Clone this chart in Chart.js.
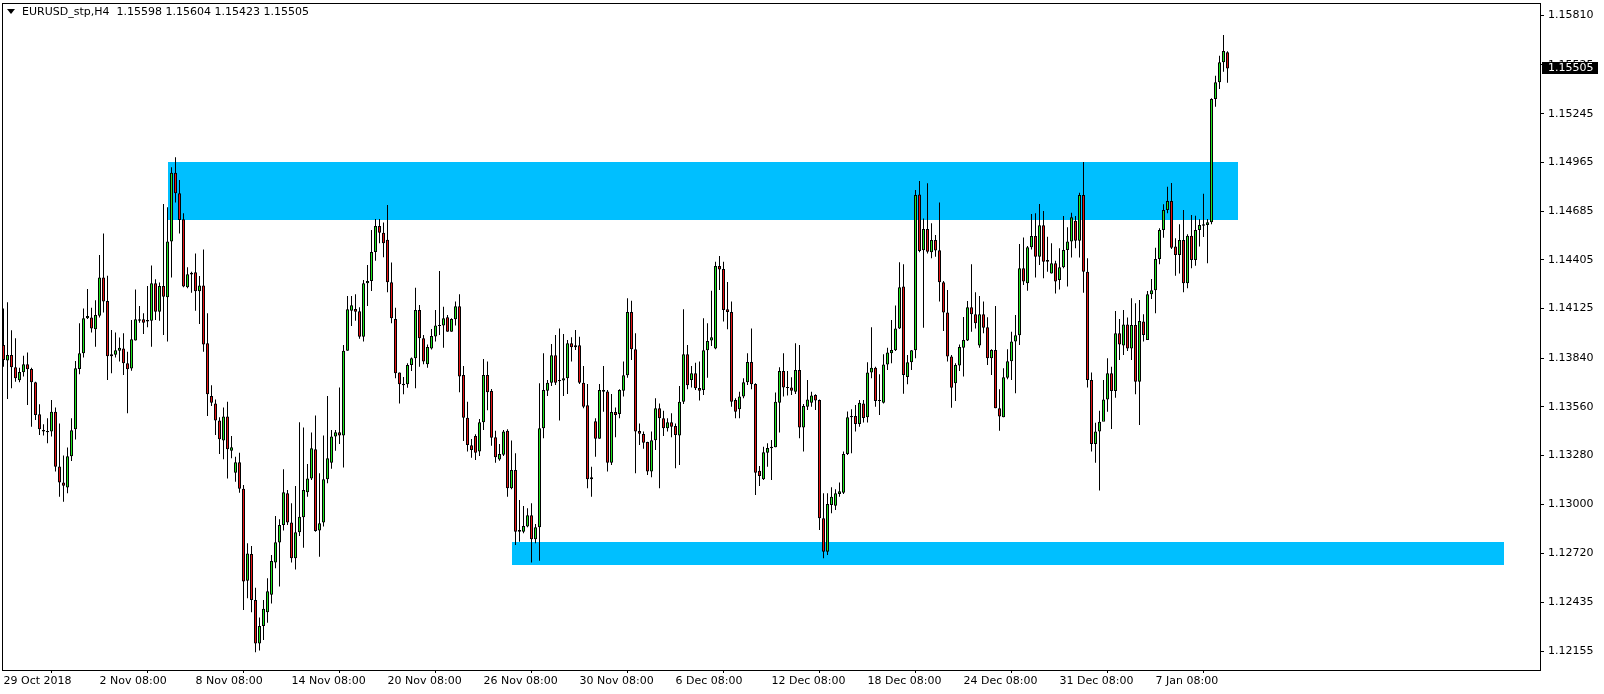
<!DOCTYPE html>
<html>
<head>
<meta charset="utf-8">
<title>EURUSD_stp,H4</title>
<script src="https://cdn.jsdelivr.net/npm/chart.js@4.4.1/dist/chart.umd.min.js"></script>
<style>
    html, body { margin: 0; padding: 0; background: #fff; }
    #wrap { width: 1604px; height: 694px; }
</style>
</head>
<body>
<div id="wrap"><canvas id="priceChart" width="1604" height="694"></canvas></div>
<script>
// H4 candles, oldest first (bar 0 = 29 Oct 2018 08:00)
const opens = [
    1.13916,1.13827,1.13858,1.13787,1.13713,1.13759,1.13805,1.13778,1.13701,1.13517,
    1.13427,1.13421,1.13418,1.13532,1.13218,1.13126,1.13096,1.13276,1.13431,1.13778,
    1.13868,1.14069,1.14073,1.14006,1.14084,1.14303,1.14168,1.13851,1.13860,1.13883,
    1.13896,1.13810,1.13780,1.13941,1.14055,1.14063,1.14059,1.14055,1.14270,1.14107,
    1.14255,1.14190,1.14511,1.14906,1.14787,1.14638,1.14247,1.14320,1.14333,1.14224,
    1.14258,1.13925,1.13623,1.13580,1.13481,1.13366,1.13504,1.13308,1.13182,1.13241,
    1.13090,1.12561,1.12715,1.12450,1.12200,1.12300,1.12380,1.12480,1.12665,1.12780,
    1.12881,1.13063,1.12896,1.12690,1.12839,1.12925,1.13069,1.13149,1.13316,1.12849,
    1.12895,1.13144,1.13239,1.13389,1.13414,1.13395,1.13883,1.14113,1.14122,1.14109,
    1.13963,1.14270,1.14283,1.14450,1.14600,1.14560,1.14520,1.14276,1.14065,1.13758,
    1.13693,1.13690,1.13801,1.13839,1.14117,1.13954,1.13805,1.13896,1.13965,1.14025,
    1.14027,1.14075,1.13992,1.14063,1.14138,1.13743,1.13498,1.13339,1.13393,1.13303,
    1.13471,1.13743,1.13651,1.13385,1.13258,1.13285,1.13423,1.13092,1.13197,1.12852,
    1.12843,1.12873,1.12937,1.12799,1.12868,1.13437,1.13653,1.13699,1.13856,1.13714,
    1.13711,1.13724,1.13925,1.13902,1.13914,1.13699,1.13569,1.13144,1.13477,1.13377,
    1.13657,1.13649,1.13239,1.13530,1.13519,1.13653,1.13741,1.14105,1.13891,1.13421,
    1.13404,1.13358,1.13188,1.13368,1.13552,1.13494,1.13437,1.13471,1.13450,1.13396,
    1.13590,1.13862,1.13714,1.13753,1.13668,1.13657,1.13885,1.13941,1.13895,1.14370,
    1.14352,1.14121,1.14105,1.13600,1.13546,1.13619,1.13701,1.13818,1.13691,1.13193,
    1.13144,1.13297,1.13322,1.13328,1.13584,1.13766,1.13674,1.13672,1.13647,1.13772,
    1.13441,1.13561,1.13584,1.13628,1.13600,1.12920,1.12728,1.12996,1.12992,1.13059,
    1.13067,1.13289,1.13508,1.13508,1.13462,1.13580,1.13500,1.13758,1.13785,1.13600,
    1.13584,1.13804,1.13868,1.13885,1.14011,1.14251,1.13732,1.13816,1.13885,1.14781,
    1.14460,1.14582,1.14448,1.14519,1.14460,1.14276,1.14103,1.13850,1.13695,1.13797,
    1.13900,1.13942,1.14132,1.14092,1.13912,1.14092,1.14017,1.13839,1.13887,1.13552,
    1.13500,1.13728,1.13822,1.13935,1.13971,1.14356,1.14270,1.14477,1.14542,1.14423,
    1.14603,1.14394,1.14327,1.14385,1.14289,1.14362,1.14461,1.14511,1.14630,1.14515,
    1.14778,1.14337,1.13714,1.13347,1.13418,1.13475,1.13603,1.13753,1.13651,1.13983,
    1.13912,1.14034,1.13896,1.14031,1.13705,1.14050,1.13944,1.14207,1.14230,1.14410,
    1.14576,1.14691,1.14743,1.14481,1.14433,1.14519,1.14270,1.14544,1.14404,1.14576,
    1.14601,1.14605,1.14621,1.15329,1.15425,1.15540,1.15598
];
const highs = [
    1.14126,1.14161,1.14000,1.13954,1.13785,1.13854,1.13873,1.13785,1.13705,1.13575,
    1.13460,1.13494,1.13600,1.13556,1.13465,1.13280,1.13326,1.13494,1.13824,1.14040,
    1.14126,1.14237,1.14130,1.14172,1.14433,1.14557,1.14314,1.14002,1.13988,1.13958,
    1.13983,1.13877,1.14059,1.14235,1.14140,1.14098,1.14255,1.14373,1.14293,1.14274,
    1.14726,1.14707,1.14937,1.14994,1.14864,1.14672,1.14362,1.14337,1.14442,1.14312,
    1.14465,1.14098,1.13684,1.13603,1.13500,1.13557,1.13590,1.13393,1.13274,1.13297,
    1.13111,1.12776,1.12760,1.12520,1.12350,1.12450,1.12575,1.12709,1.12933,1.12914,
    1.13201,1.13082,1.13006,1.13105,1.13471,1.13442,1.13232,1.13412,1.13511,1.13178,
    1.13396,1.13623,1.13427,1.13427,1.13672,1.13916,1.14197,1.14197,1.14207,1.14132,
    1.14289,1.14375,1.14576,1.14640,1.14640,1.14620,1.14720,1.14390,1.14130,1.13758,
    1.13732,1.13810,1.13843,1.14245,1.14145,1.13973,1.13919,1.14008,1.14117,1.14341,
    1.14136,1.14088,1.14069,1.14165,1.14207,1.13795,1.13590,1.13375,1.13402,1.13490,
    1.13835,1.13820,1.13663,1.13423,1.13347,1.13427,1.13431,1.13366,1.13293,1.13025,
    1.12990,1.12977,1.13006,1.12887,1.13695,1.13868,1.13714,1.13921,1.13973,1.14011,
    1.13979,1.13944,1.13960,1.14002,1.13963,1.13795,1.13691,1.13216,1.13494,1.13691,
    1.13795,1.13657,1.13634,1.13557,1.13661,1.13820,1.14184,1.14170,1.13983,1.13465,
    1.13418,1.13360,1.13418,1.13609,1.13580,1.13538,1.13494,1.13523,1.13465,1.13680,
    1.14121,1.13916,1.13795,1.13814,1.13820,1.14069,1.14040,1.14228,1.14394,1.14427,
    1.14394,1.14278,1.14165,1.13609,1.13647,1.13724,1.13868,1.14010,1.13695,1.13220,
    1.13331,1.13351,1.13370,1.13642,1.13787,1.13868,1.13766,1.13730,1.13925,1.13916,
    1.13577,1.13714,1.13647,1.13632,1.13603,1.13063,1.13063,1.13098,1.13086,1.13125,
    1.13303,1.13533,1.13546,1.13571,1.13600,1.13600,1.13816,1.14017,1.13791,1.13747,
    1.13862,1.13900,1.14059,1.14142,1.14391,1.14379,1.13858,1.13887,1.14806,1.14858,
    1.14643,1.14845,1.14615,1.14548,1.14735,1.14283,1.14232,1.13858,1.13810,1.13919,
    1.14076,1.14168,1.14379,1.14218,1.14197,1.14165,1.14075,1.13891,1.14140,1.13661,
    1.13782,1.13891,1.13992,1.14088,1.14496,1.14534,1.14484,1.14668,1.14672,1.14726,
    1.14686,1.14538,1.14500,1.14400,1.14471,1.14657,1.14592,1.14676,1.14657,1.14791,
    1.14967,1.14414,1.13757,1.13469,1.13538,1.13714,1.13839,1.13791,1.14111,1.14065,
    1.14117,1.14073,1.14184,1.14155,1.14174,1.14092,1.14226,1.14295,1.14475,1.14586,
    1.14724,1.14825,1.14847,1.14529,1.14609,1.14691,1.14552,1.14663,1.14659,1.14638,
    1.14785,1.14640,1.15333,1.15463,1.15578,1.15697,1.15604
];
const lows = [
    1.13791,1.13605,1.13667,1.13705,1.13701,1.13734,1.13571,1.13446,1.13485,1.13398,
    1.13395,1.13351,1.13389,1.13188,1.13044,1.13015,1.13063,1.13249,1.13372,1.13747,
    1.13843,1.14065,1.13988,1.13906,1.14073,1.14103,1.13714,1.13753,1.13843,1.13820,
    1.13743,1.13523,1.13768,1.13941,1.14044,1.13979,1.14017,1.13906,1.14059,1.14055,
    1.13973,1.13935,1.14304,1.14734,1.14557,1.14247,1.14241,1.14216,1.14113,1.14036,
    1.13877,1.13508,1.13565,1.13398,1.13289,1.13259,1.13149,1.13264,1.13130,1.13067,
    1.12393,1.12460,1.12380,1.12150,1.12160,1.12220,1.12320,1.12430,1.12632,1.12527,
    1.12849,1.12881,1.12665,1.12626,1.12818,1.12751,1.13044,1.13140,1.12843,1.12699,
    1.12872,1.13121,1.13205,1.13308,1.13347,1.13211,1.13883,1.14025,1.14055,1.13952,
    1.13935,1.14140,1.14226,1.14400,1.14500,1.14420,1.14218,1.14040,1.13724,1.13580,
    1.13632,1.13670,1.13766,1.13667,1.13791,1.13805,1.13785,1.13889,1.13935,1.13973,
    1.13900,1.13992,1.13992,1.14027,1.13644,1.13364,1.13303,1.13268,1.13255,1.13278,
    1.13427,1.13540,1.13337,1.13239,1.13251,1.13278,1.13044,1.13086,1.12766,1.12785,
    1.12833,1.12868,1.12665,1.12776,1.12676,1.13379,1.13622,1.13680,1.13686,1.13481,
    1.13622,1.13634,1.13820,1.13887,1.13691,1.13552,1.13092,1.13044,1.13274,1.13377,
    1.13532,1.13188,1.13226,1.13385,1.13494,1.13619,1.13728,1.13829,1.13178,1.13341,
    1.13320,1.13169,1.13155,1.13312,1.13092,1.13393,1.13418,1.13385,1.13207,1.13226,
    1.13577,1.13661,1.13672,1.13657,1.13596,1.13628,1.13728,1.13910,1.13891,1.14232,
    1.14050,1.14006,1.13561,1.13494,1.13494,1.13609,1.13686,1.13661,1.13054,1.13105,
    1.13140,1.13216,1.13140,1.13328,1.13412,1.13619,1.13626,1.13628,1.13634,1.13379,
    1.13303,1.13542,1.13561,1.13542,1.12852,1.12690,1.12709,1.12948,1.12967,1.13044,
    1.13059,1.13283,1.13293,1.13418,1.13446,1.13470,1.13470,1.13724,1.13561,1.13513,
    1.13580,1.13772,1.13810,1.13881,1.14008,1.13636,1.13690,1.13772,1.13839,1.14448,
    1.14015,1.14442,1.14414,1.14423,1.14165,1.13996,1.13820,1.13555,1.13594,1.13766,
    1.13734,1.13939,1.13992,1.14011,1.13900,1.13983,1.13801,1.13743,1.13552,1.13423,
    1.13500,1.13718,1.13714,1.13638,1.13916,1.14260,1.14228,1.14465,1.14304,1.14375,
    1.14299,1.14337,1.14327,1.14212,1.14235,1.14356,1.14251,1.14419,1.14471,1.14419,
    1.14216,1.13672,1.13303,1.13239,1.13079,1.13513,1.13532,1.13433,1.13613,1.13829,
    1.13858,1.13881,1.13829,1.13632,1.13456,1.13935,1.13944,1.14180,1.14098,1.14379,
    1.14532,1.14672,1.14467,1.14314,1.14327,1.14218,1.14241,1.14356,1.14371,1.14481,
    1.14536,1.14385,1.14609,1.15285,1.15387,1.15486,1.15423
];
const closes = [
    1.13829,1.13858,1.13787,1.13724,1.13760,1.13805,1.13776,1.13701,1.13513,1.13431,
    1.13418,1.13414,1.13532,1.13216,1.13126,1.13107,1.13276,1.13425,1.13782,1.13868,
    1.14069,1.14082,1.14011,1.14088,1.14303,1.14165,1.13851,1.13862,1.13885,1.13900,
    1.13810,1.13776,1.13948,1.14063,1.14063,1.14044,1.14050,1.14270,1.14107,1.14255,
    1.14193,1.14511,1.14906,1.14787,1.14634,1.14251,1.14322,1.14331,1.14224,1.14258,
    1.13919,1.13632,1.13584,1.13481,1.13374,1.13504,1.13316,1.13328,1.13241,1.13090,
    1.12556,1.12718,1.12450,1.12200,1.12300,1.12400,1.12500,1.12674,1.12782,1.12881,
    1.13069,1.12895,1.12690,1.12839,1.12929,1.13082,1.13149,1.13322,1.12847,1.12891,
    1.13144,1.13264,1.13389,1.13414,1.13395,1.13883,1.14121,1.14144,1.14107,1.13963,
    1.14270,1.14283,1.14450,1.14600,1.14560,1.14500,1.14276,1.14069,1.13753,1.13690,
    1.13684,1.13801,1.13839,1.14117,1.13954,1.13820,1.13904,1.13967,1.14027,1.14031,
    1.14069,1.13992,1.14065,1.14138,1.13734,1.13498,1.13341,1.13312,1.13297,1.13471,
    1.13743,1.13644,1.13383,1.13270,1.13289,1.13419,1.13092,1.13197,1.12843,1.12843,
    1.12875,1.12937,1.12799,1.12868,1.13437,1.13657,1.13699,1.13856,1.13699,1.13707,
    1.13724,1.13925,1.13902,1.13914,1.13699,1.13561,1.13144,1.13155,1.13377,1.13657,
    1.13647,1.13239,1.13530,1.13513,1.13657,1.13741,1.14105,1.13891,1.13418,1.13406,
    1.13354,1.13188,1.13368,1.13552,1.13494,1.13437,1.13471,1.13446,1.13398,1.13590,
    1.13862,1.13684,1.13753,1.13667,1.13653,1.13885,1.13939,1.13960,1.14370,1.14350,
    1.14117,1.14105,1.13590,1.13532,1.13619,1.13701,1.13818,1.13690,1.13182,1.13163,
    1.13299,1.13324,1.13331,1.13590,1.13766,1.13672,1.13669,1.13653,1.13772,1.13441,
    1.13565,1.13603,1.13626,1.13596,1.12920,1.12728,1.13002,1.13044,1.13063,1.13075,
    1.13289,1.13500,1.13500,1.13462,1.13584,1.13496,1.13758,1.13785,1.13594,1.13594,
    1.13804,1.13873,1.13887,1.14011,1.14247,1.13743,1.13816,1.13885,1.14778,1.14456,
    1.14582,1.14452,1.14519,1.14458,1.14276,1.14103,1.13849,1.13670,1.13801,1.13904,
    1.13944,1.14132,1.14092,1.14040,1.14092,1.14015,1.13839,1.13887,1.13552,1.13504,
    1.13730,1.13822,1.13935,1.13971,1.14356,1.14280,1.14477,1.14542,1.14423,1.14603,
    1.14394,1.14404,1.14385,1.14280,1.14362,1.14461,1.14511,1.14649,1.14515,1.14778,
    1.14337,1.13714,1.13347,1.13418,1.13475,1.13603,1.13753,1.13651,1.13983,1.13919,
    1.14034,1.13896,1.14031,1.13705,1.14053,1.13973,1.14207,1.14230,1.14410,1.14576,
    1.14691,1.14743,1.14475,1.14433,1.14519,1.14270,1.14544,1.14404,1.14576,1.14605,
    1.14609,1.14621,1.15329,1.15425,1.15540,1.15605,1.15505
];

// Axis ticks
const yTicks = [1.15810, 1.15525, 1.15245, 1.14965, 1.14685, 1.14405, 1.14125,
                1.13840, 1.13560, 1.13280, 1.13000, 1.12720, 1.12435, 1.12155];
const xTickIdx = [0, 24, 48, 72, 96, 120, 144, 168, 192, 216, 240, 264, 288];
const xTickText = ['29 Oct 2018', '2 Nov 08:00', '8 Nov 08:00', '14 Nov 08:00', '20 Nov 08:00',
                   '26 Nov 08:00', '30 Nov 08:00', '6 Dec 08:00', '12 Dec 08:00', '18 Dec 08:00',
                   '24 Dec 08:00', '31 Dec 08:00', '7 Jan 08:00'];

// Rectangles (bar index from/to, price top/bottom)
const zoneFrom = [41, 127];
const zoneTo = [308.5, 375];
const zoneTop = [1.14967, 1.12782];
const zoneBottom = [1.14634, 1.12651];

const symbolName = 'EURUSD_stp,H4';
const bullColor = '#1ee61e';
const bearColor = '#e61414';
const zoneColor = '#00bfff';
const font = { family: 'DejaVu Sans', size: 11 };

const wickData = lows.map((lo, i) => ({ x: i, y: [lo, highs[i]] }));
const bodyData = opens.map((o, i) => ({ x: i, y: [o, closes[i]] }));

// Rectangles behind the candles
const zonePlugin = {
    id: 'zones',
    beforeDatasetsDraw(chart) {
        const { ctx, chartArea, scales: { x, y } } = chart;
        ctx.save();
        ctx.beginPath();
        ctx.rect(chartArea.left, chartArea.top, chartArea.width, chartArea.height);
        ctx.clip();
        ctx.fillStyle = zoneColor;
        zoneFrom.forEach((from, i) => {
            const x1 = Math.round(x.getPixelForValue(from));
            const x2 = Math.round(x.getPixelForValue(zoneTo[i]));
            const y1 = Math.round(y.getPixelForValue(zoneTop[i]));
            const y2 = Math.round(y.getPixelForValue(zoneBottom[i]));
            ctx.fillRect(x1, y1, x2 - x1, y2 - y1);
        });
        ctx.restore();
    }
};

// Frame, header line and last price label
const overlayPlugin = {
    id: 'overlay',
    afterDraw(chart) {
        const { ctx, chartArea, scales: { y } } = chart;
        const last = opens.length - 1;
        ctx.save();
        ctx.strokeStyle = '#000';
        ctx.lineWidth = 1;
        ctx.strokeRect(chartArea.left + 0.5, chartArea.top - 0.5, chartArea.width, chartArea.height + 1);

        ctx.fillStyle = '#000';
        ctx.beginPath();
        ctx.moveTo(7, 9);
        ctx.lineTo(15, 9);
        ctx.lineTo(11, 14);
        ctx.closePath();
        ctx.fill();

        ctx.font = '11px "DejaVu Sans"';
        ctx.textBaseline = 'middle';
        ctx.textAlign = 'left';
        const header = symbolName + '  ' + [opens[last], highs[last], lows[last], closes[last]]
            .map(v => v.toFixed(5)).join(' ');
        ctx.fillText(header, 22, 12);

        const py = Math.round(y.getPixelForValue(closes[last]));
        ctx.fillRect(chartArea.right + 2, py - 6, 56, 12);
        ctx.fillStyle = '#fff';
        ctx.fillText(closes[last].toFixed(5), chartArea.right + 8, py);
        ctx.restore();
    }
};

const ctx = document.getElementById('priceChart').getContext('2d');

new Chart(ctx, {
    type: 'bar',
    data: {
        datasets: [
            {
                label: 'body',
                data: bodyData,
                order: 0,
                grouped: false,
                barThickness: 3,
                minBarLength: 1,
                borderWidth: 1,
                borderColor: '#000',
                borderSkipped: false,
                inflateAmount: 0,
                backgroundColor: c => closes[c.dataIndex] >= opens[c.dataIndex] ? bullColor : bearColor
            },
            {
                label: 'wick',
                data: wickData,
                order: 1,
                grouped: false,
                barThickness: 1,
                borderWidth: 0,
                inflateAmount: 0,
                backgroundColor: '#000'
            }
        ]
    },
    options: {
        responsive: false,
        animation: false,
        devicePixelRatio: 1,
        layout: { padding: { left: 2, top: 4, right: 0, bottom: 0 } },
        plugins: {
            legend: { display: false },
            tooltip: { enabled: false }
        },
        scales: {
            x: {
                type: 'linear',
                offset: false,
                min: -0.375,
                max: 384.125,
                afterBuildTicks: s => { s.ticks = xTickIdx.map(v => ({ value: v })); },
                afterFit: s => {
                    s.height = 24;
                    s.paddingLeft = 0;
                    s.paddingRight = 0;
                },
                border: { display: false },
                grid: { drawOnChartArea: false, drawTicks: true, tickLength: 3, color: '#000' },
                ticks: {
                    autoSkip: false,
                    maxRotation: 0,
                    align: 'start',
                    padding: 2,
                    color: '#000',
                    font: font,
                    callback: (v, i) => xTickText[i]
                }
            },
            y: {
                type: 'linear',
                position: 'right',
                beginAtZero: false,
                min: 1.120478,
                max: 1.158752,
                afterBuildTicks: s => { s.ticks = yTicks.map(v => ({ value: v })); },
                afterFit: s => {
                    s.width = 64;
                    s.paddingTop = 0;
                    s.paddingBottom = 0;
                },
                border: { display: false },
                grid: { drawOnChartArea: false, drawTicks: true, tickLength: 4, color: '#000' },
                ticks: {
                    padding: 4,
                    color: '#000',
                    font: font,
                    callback: v => v.toFixed(5)
                }
            }
        }
    },
    plugins: [zonePlugin, overlayPlugin]
});
</script>
</body>
</html>
